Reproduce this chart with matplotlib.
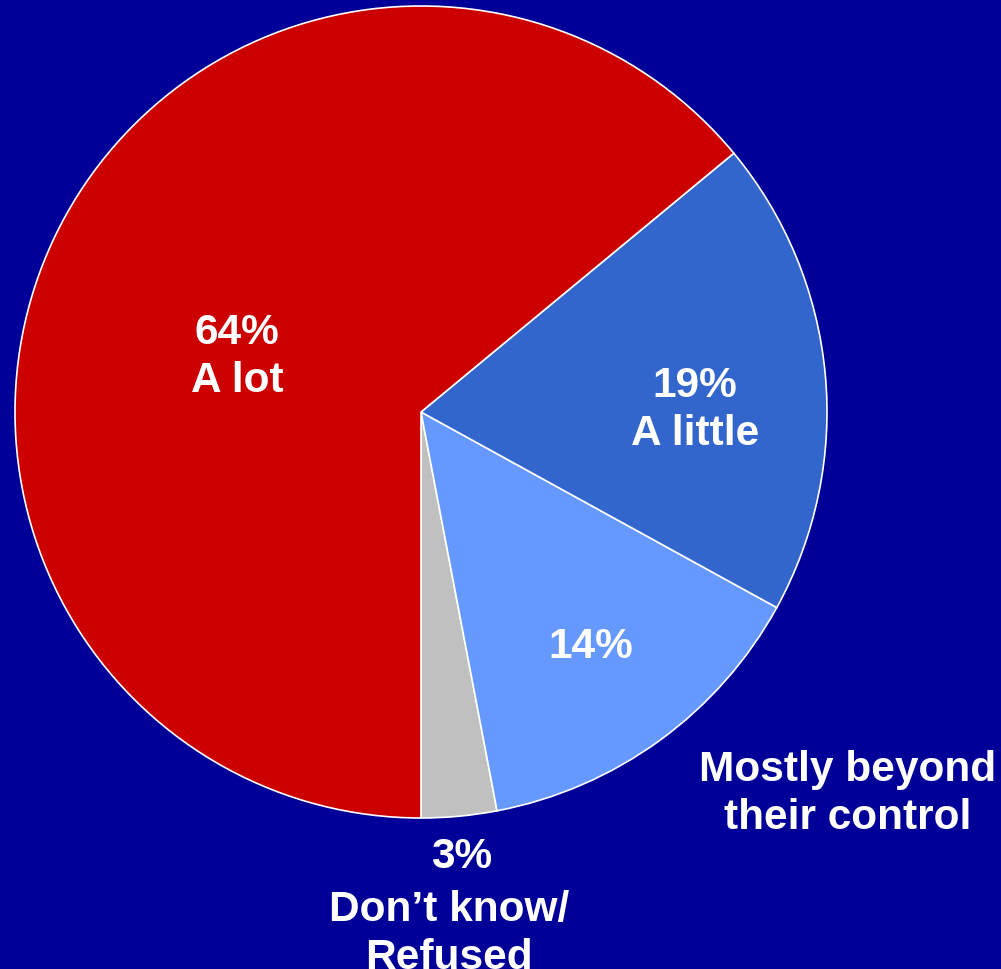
import matplotlib.pyplot as plt

categories = ["Don\u2019t know/\nRefused", "Mostly beyond\ntheir control", "A little", "A lot"]
shares = [3, 14, 19, 64]
colors = ['#C0C0C0', '#6699FF', '#3366CC', '#CC0000']
bg = '#000099'

W, H = 1001, 970
fig = plt.figure(figsize=(W / 100, H / 100), dpi=100, facecolor=bg)
ax = fig.add_axes([0, 0, 1, 1])
ax.set_facecolor(bg)

# pie in pixel units, y measured from the bottom
cx, cy, r = 421, H - 413, 406
ax.pie(shares, colors=colors, startangle=-90, counterclock=True,
       center=(cx, cy), radius=r, frame=True,
       wedgeprops=dict(edgecolor='white', linewidth=1.2))
ax.set_xlim(0, W)
ax.set_ylim(0, H)
ax.axis('off')

font = dict(color='white', fontweight='bold', family='Liberation Sans',
            fontsize=30.5, ha='center', va='center', linespacing=1.25)

ax.text(237, H - 357, f"{shares[3]}%\n{categories[3]}", **font)
ax.text(695, H - 410, f"{shares[2]}%\n{categories[2]}", **font)
ax.text(591, H - 647, f"{shares[1]}%", **font)
ax.text(848, H - 794, categories[1], **font)
ax.text(462, H - 857, f"{shares[0]}%", **font)
ax.text(449, H - 934, categories[0], **font)

fig.savefig('out.png', dpi=100, facecolor=bg)
